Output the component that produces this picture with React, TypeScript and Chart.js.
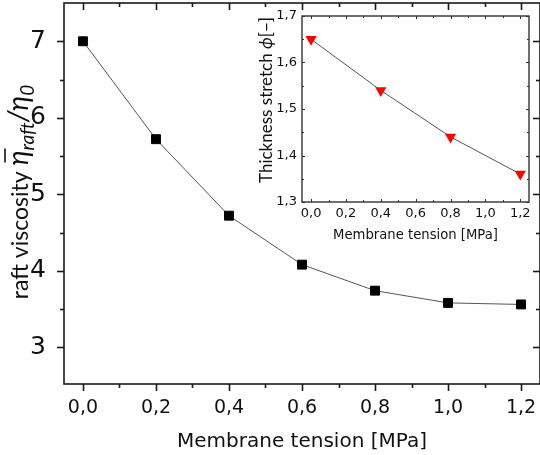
import React, { useEffect, useRef } from "react";
import { Chart, registerables } from "chart.js";

Chart.register(...registerables);

// ---------- data ----------
const tension = [0.0, 0.2, 0.4, 0.6, 0.8, 1.0, 1.2];
const viscosity = [7.0, 5.72, 4.72, 4.08, 3.74, 3.58, 3.56];

const insetTension = [0.0, 0.4, 0.8, 1.2];
const thicknessStretch = [1.65, 1.54, 1.44, 1.36];

const mainXMajor = [0.0, 0.2, 0.4, 0.6, 0.8, 1.0, 1.2];
const mainXMinor = [0.1, 0.3, 0.5, 0.7, 0.9, 1.1];
const mainYMajor = [3, 4, 5, 6, 7];
const mainYMinor = [3.5, 4.5, 5.5, 6.5];

const insetXMajor = [0.0, 0.2, 0.4, 0.6, 0.8, 1.0, 1.2];
const insetXMinor = [0.1, 0.3, 0.5, 0.7, 0.9, 1.1];
const insetYMajor = [1.3, 1.4, 1.5, 1.6, 1.7];
const insetYMinor = [1.35, 1.45, 1.55, 1.65];

const xTitle = "Membrane tension [MPa]";
const insetYTitle = "Thickness stretch ";

const FONT = "Lato, 'Open Sans', sans-serif";
const WIDE = "'DejaVu Sans', 'Open Sans', sans-serif";
const TEXT = "#111111";

const comma = (v: number, d: number) => Number(v).toFixed(d).replace(".", ",");

type FrameCfg = {
  xMajor: number[];
  xMinor: number[];
  yMajor: number[];
  yMinor: number[];
  majorLen: number;
  minorLen: number;
  outward: boolean;
  frameWidth: number;
  tickWidth: number;
  color: string;
};

function framePlugin(id: string, cfg: FrameCfg, drawTitles: (chart: any) => void) {
  return {
    id,
    afterDraw(chart: any) {
      const { ctx, chartArea: a, scales } = chart;
      const xs = scales.x;
      const ys = scales.y;
      ctx.save();
      ctx.strokeStyle = cfg.color;
      ctx.lineWidth = cfg.tickWidth;
      const seg = (x1: number, y1: number, x2: number, y2: number) => {
        ctx.beginPath();
        ctx.moveTo(x1, y1);
        ctx.lineTo(x2, y2);
        ctx.stroke();
      };
      const xt = (vals: number[], len: number) => {
        vals.forEach((v) => {
          const px = Math.round(xs.getPixelForValue(v)) + 0.5;
          if (cfg.outward) seg(px, a.bottom, px, a.bottom + len);
          else seg(px, a.bottom, px, a.bottom - len);
          seg(px, a.top, px, a.top + len);
        });
      };
      const yt = (vals: number[], len: number) => {
        vals.forEach((v) => {
          const py = Math.round(ys.getPixelForValue(v)) + 0.5;
          if (cfg.outward) seg(a.left, py, a.left - len, py);
          else seg(a.left, py, a.left + len, py);
          seg(a.right, py, a.right - len, py);
        });
      };
      xt(cfg.xMajor, cfg.majorLen);
      xt(cfg.xMinor, cfg.minorLen);
      yt(cfg.yMajor, cfg.majorLen);
      yt(cfg.yMinor, cfg.minorLen);
      ctx.lineWidth = cfg.frameWidth;
      ctx.strokeRect(a.left, a.top, a.right - a.left, a.bottom - a.top);
      ctx.restore();
      drawTitles(chart);
    },
  };
}

function drawRotatedSegments(
  ctx: CanvasRenderingContext2D,
  cx: number,
  cy: number,
  segs: { t: string; font: string; dy: number; bar?: boolean }[]
) {
  ctx.save();
  ctx.translate(cx, cy);
  ctx.rotate(-Math.PI / 2);
  ctx.fillStyle = TEXT;
  ctx.strokeStyle = TEXT;
  ctx.textBaseline = "alphabetic";
  ctx.textAlign = "left";
  let total = 0;
  const widths = segs.map((s) => {
    ctx.font = s.font;
    const w = ctx.measureText(s.t).width;
    total += w;
    return w;
  });
  let x = -total / 2;
  segs.forEach((s, i) => {
    ctx.font = s.font;
    ctx.fillText(s.t, x, s.dy);
    if (s.bar) {
      ctx.lineWidth = 1.6;
      ctx.beginPath();
      ctx.moveTo(x + 3, -23);
      ctx.lineTo(x + widths[i] + 2, -23);
      ctx.stroke();
    }
    x += widths[i];
  });
  ctx.restore();
}

function MainChart() {
  const ref = useRef<HTMLCanvasElement | null>(null);
  useEffect(() => {
    if (!ref.current) return;
    const titles = (chart: any) => {
      const { ctx, chartArea: a } = chart;
      ctx.save();
      ctx.fillStyle = TEXT;
      ctx.font = `20px ${WIDE}`;
      ctx.textAlign = "center";
      ctx.textBaseline = "alphabetic";
      ctx.fillText(xTitle, (a.left + a.right) / 2, 447);
      ctx.restore();
      drawRotatedSegments(ctx, 28, 192, [
        { t: "raft viscosity ", font: `23px ${FONT}`, dy: 0 },
        { t: "η", font: `italic 28px ${FONT}`, dy: 0, bar: true },
        { t: "raft", font: `italic 19px ${FONT}`, dy: 6 },
        { t: "/η", font: `italic 28px ${FONT}`, dy: 0 },
        { t: "0", font: `italic 19px ${FONT}`, dy: 6 },
      ]);
    };
    const chart = new Chart(ref.current, {
      type: "scatter",
      data: {
        datasets: [
          {
            data: tension.map((t, i) => ({ x: t, y: viscosity[i] })),
            showLine: true,
            borderColor: "#555555",
            borderWidth: 1,
            pointStyle: "rect",
            pointRadius: 6.3,
            pointBorderWidth: 1,
            pointBackgroundColor: "#000000",
            pointBorderColor: "#000000",
          },
        ],
      },
      options: {
        responsive: false,
        animation: false,
        events: [],
        layout: { autoPadding: false, padding: { left: 0, top: 3, right: 0, bottom: 0 } },
        plugins: { legend: { display: false }, tooltip: { enabled: false } },
        scales: {
          x: {
            type: "linear",
            min: -0.052,
            max: 1.252,
            grid: { display: false, drawTicks: false },
            border: { display: false },
            ticks: {
              padding: 13,
              color: TEXT,
              font: { family: WIDE, size: 19 },
              callback: (v: any) => comma(v, 1),
            },
            afterBuildTicks: (s: any) => {
              s.ticks = mainXMajor.map((v) => ({ value: v }));
            },
            afterFit: (s: any) => {
              s.height = 71;
              s.paddingLeft = 0;
              s.paddingRight = 0;
              s.paddingTop = 0;
              s.paddingBottom = 0;
            },
          },
          y: {
            type: "linear",
            min: 2.52,
            max: 7.5,
            grid: { display: false, drawTicks: false },
            border: { display: false },
            ticks: {
              padding: 18,
              color: TEXT,
              font: { family: WIDE, size: 25 },
              callback: (v: any) => String(v),
            },
            afterBuildTicks: (s: any) => {
              s.ticks = mainYMajor.map((v) => ({ value: v }));
            },
            afterFit: (s: any) => {
              s.width = 64;
              s.paddingLeft = 0;
              s.paddingRight = 0;
              s.paddingTop = 0;
              s.paddingBottom = 0;
            },
          },
        },
      } as any,
      plugins: [
        framePlugin(
          "mainFrame",
          {
            xMajor: mainXMajor,
            xMinor: mainXMinor,
            yMajor: mainYMajor,
            yMinor: mainYMinor,
            majorLen: 7,
            minorLen: 4,
            outward: true,
            frameWidth: 1.6,
            tickWidth: 1.6,
            color: "#1a1a1a",
          },
          titles
        ),
      ],
    });
    return () => chart.destroy();
  }, []);
  return <canvas ref={ref} width={540} height={455} style={{ position: "absolute", left: 0, top: 0 }} />;
}

function InsetChart() {
  const ref = useRef<HTMLCanvasElement | null>(null);
  useEffect(() => {
    if (!ref.current) return;
    const titles = (chart: any) => {
      const { ctx, chartArea: a } = chart;
      ctx.save();
      ctx.fillStyle = TEXT;
      ctx.font = `13.2px ${WIDE}`;
      ctx.textAlign = "center";
      ctx.textBaseline = "alphabetic";
      ctx.fillText(xTitle, (a.left + a.right) / 2, 239);
      ctx.restore();
      drawRotatedSegments(ctx, 272, 100, [
        { t: insetYTitle, font: `17px ${FONT}`, dy: 0 },
        { t: "ϕ", font: `italic 17px ${FONT}`, dy: 0 },
        { t: "[−]", font: `17px ${FONT}`, dy: 0 },
      ]);
    };
    const chart = new Chart(ref.current, {
      type: "scatter",
      data: {
        datasets: [
          {
            data: insetTension.map((t, i) => ({ x: t, y: thicknessStretch[i] })),
            showLine: true,
            borderColor: "#555555",
            borderWidth: 1,
            pointStyle: "triangle",
            rotation: 180,
            pointRadius: 6.5,
            pointBorderWidth: 0,
            pointBackgroundColor: "#ff0000",
            pointBorderColor: "#ff0000",
          },
        ],
      },
      options: {
        responsive: false,
        animation: false,
        events: [],
        layout: { autoPadding: false, padding: { left: 0, top: 16, right: 11, bottom: 0 } },
        plugins: { legend: { display: false }, tooltip: { enabled: false } },
        scales: {
          x: {
            type: "linear",
            min: -0.052,
            max: 1.25,
            grid: { display: false, drawTicks: false },
            border: { display: false },
            ticks: {
              padding: 4,
              color: TEXT,
              font: { family: WIDE, size: 13 },
              callback: (v: any) => comma(v, 1),
            },
            afterBuildTicks: (s: any) => {
              s.ticks = insetXMajor.map((v) => ({ value: v }));
            },
            afterFit: (s: any) => {
              s.height = 253;
              s.paddingLeft = 0;
              s.paddingRight = 0;
              s.paddingTop = 0;
              s.paddingBottom = 0;
            },
          },
          y: {
            type: "linear",
            min: 1.3,
            max: 1.7,
            grid: { display: false, drawTicks: false },
            border: { display: false },
            ticks: {
              padding: 5,
              color: TEXT,
              font: { family: WIDE, size: 13 },
              callback: (v: any) => comma(v, 1),
            },
            afterBuildTicks: (s: any) => {
              s.ticks = insetYMajor.map((v) => ({ value: v }));
            },
            afterFit: (s: any) => {
              s.width = 302;
              s.paddingLeft = 0;
              s.paddingRight = 0;
              s.paddingTop = 0;
              s.paddingBottom = 0;
            },
          },
        },
      } as any,
      plugins: [
        framePlugin(
          "insetFrame",
          {
            xMajor: insetXMajor,
            xMinor: insetXMinor,
            yMajor: insetYMajor,
            yMinor: insetYMinor,
            majorLen: 3,
            minorLen: 2,
            outward: false,
            frameWidth: 1.4,
            tickWidth: 1,
            color: "#333333",
          },
          titles
        ),
      ],
    });
    return () => chart.destroy();
  }, []);
  return <canvas ref={ref} width={540} height={455} style={{ position: "absolute", left: 0, top: 0 }} />;
}

export default function App() {
  return (
    <div style={{ position: "absolute", left: 0, top: 0, width: 540, height: 455, background: "#ffffff", overflow: "hidden" }}>
      <MainChart />
      <InsetChart />
    </div>
  );
}
